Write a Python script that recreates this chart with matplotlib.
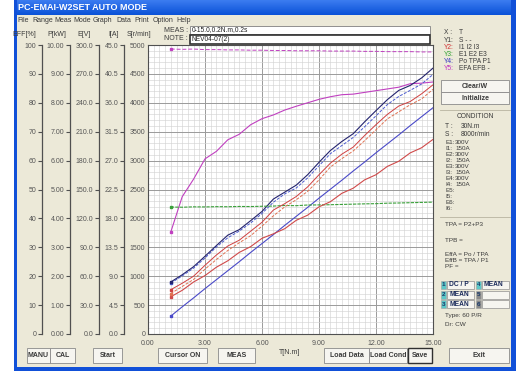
import numpy as np
import matplotlib
matplotlib.use("Agg")
import matplotlib.pyplot as plt
from matplotlib.patches import Rectangle

W, H = 516, 371

# measured data (T step 0.6 N.m)
torque = [1.2, 1.8, 2.4, 3.0, 3.6, 4.2, 4.8, 5.4, 6.0, 6.6, 7.2, 7.8,
          8.4, 9.0, 9.6, 10.2, 10.8, 11.4, 12.0, 12.6, 13.2, 13.8, 14.4, 15.0]
p1_kw = [1.80, 2.05, 2.33, 2.69, 3.06, 3.42, 3.61, 3.92, 4.24, 4.67, 4.91, 5.15,
         5.51, 5.94, 6.35, 6.66, 6.93, 7.34, 7.73, 8.11, 8.43, 8.60, 8.86, 9.20]
tpa_kw = [1.76, 2.01, 2.28, 2.63, 3.01, 3.33, 3.56, 3.84, 4.17, 4.56, 4.85, 5.05,
          5.40, 5.82, 6.24, 6.52, 6.80, 7.17, 7.55, 7.94, 8.22, 8.43, 8.65, 8.98]
po_kw = [0.62, 0.94, 1.25, 1.57, 1.88, 2.19, 2.50, 2.82, 3.13, 3.44, 3.76, 4.07,
         4.38, 4.70, 5.01, 5.32, 5.64, 5.95, 6.27, 6.58, 6.89, 7.21, 7.52, 7.83]
i1_a = [6.9, 7.9, 9.0, 10.7, 12.3, 13.7, 14.6, 16.0, 17.4, 19.3, 20.3, 21.4,
        22.9, 24.8, 26.6, 28.0, 29.1, 30.9, 32.6, 34.2, 35.5, 36.2, 37.4, 38.8]
i2_a = [6.3, 7.4, 8.5, 10.1, 11.6, 13.0, 14.2, 15.3, 16.8, 18.4, 19.8, 20.9,
        22.2, 24.0, 26.0, 27.3, 28.5, 30.1, 31.8, 33.5, 34.6, 35.7, 36.6, 38.1]
i3_a = [5.8, 6.8, 8.1, 9.1, 10.4, 11.4, 12.7, 13.6, 14.9, 15.6, 16.4, 17.7,
        18.5, 19.8, 20.6, 21.9, 22.7, 24.0, 24.8, 26.1, 26.9, 28.2, 29.0, 30.3]
e_v = [131.8, 131.6, 132.0, 131.9, 132.2, 132.1, 132.4, 132.3, 132.6, 132.8, 133.4, 133.2,
       133.9, 134.0, 134.2, 134.5, 134.8, 135.1, 135.3, 135.8, 136.0, 136.3, 136.6, 136.9]
efa_pct = [35.3, 47.5, 53.6, 60.6, 63.2, 67.2, 69.1, 72.4, 74.5, 75.8, 77.5, 78.8,
           80.0, 81.2, 82.1, 82.8, 83.0, 83.6, 84.2, 84.8, 85.4, 86.6, 86.8, 87.2]
efb_pct = [98.6, 98.5, 98.6, 98.4, 98.4, 98.3, 98.3, 98.2, 98.2, 98.1, 98.1, 98.0,
           98.0, 98.0, 97.9, 97.9, 97.9, 97.8, 97.8, 97.7, 97.7, 97.7, 97.6, 97.6]

x_ticks = [0, 3, 6, 9, 12, 15]
x_labels = ["0.00", "3.00", "6.00", "9.00", "12.00", "15.00"]

BG = "#ece9d8"
TXT = "#3a3a3a"
TICK = "#555555"
FS = 5

plt.rcParams["font.family"] = ["Liberation Sans", "DejaVu Sans"]

fig = plt.figure(figsize=(W / 100, H / 100), dpi=100)
fig.patch.set_facecolor(BG)

ui = fig.add_axes([0, 0, 1, 1], zorder=0)
ui.set_xlim(0, W)
ui.set_ylim(H, 0)
ui.axis("off")


def rect(x0, y0, x1, y1, fc, ec="none", lw=0.6, z=1):
    ui.add_patch(Rectangle((x0, y0), x1 - x0, y1 - y0, facecolor=fc, edgecolor=ec, lw=lw, zorder=z))


def button(x0, y0, x1, y1, label, default=False):
    rect(x0, y0, x1, y1, "#f6f5f0", "#303030" if default else "#8a8a8a", 1.0 if default else 0.6)
    ui.text((x0 + x1) / 2, (y0 + y1) / 2, label, ha="center", va="center",
            fontsize=FS, fontweight="bold", color=TXT, zorder=3)


# window frame
rect(0, 0, 14, H, "white")
grad = np.linspace(0, 1, 20).reshape(-1, 1)
ui.imshow(grad, extent=[14, W, 15, 0], aspect="auto", cmap=matplotlib.colors.LinearSegmentedColormap.from_list(
    "xp", ["#3b7cf0", "#0b52d8"]), zorder=1)
rect(14, 0, 17, H, "#1150d8")
rect(511, 0, W, H, "#1150d8")
rect(14, 367, W, H, "#1150d8")
ui.text(18, 8, "PC-EMAI-W2SET AUTO MODE", color="white", fontsize=6.5, fontweight="bold",
        va="center", zorder=3)

menu = [("File", 17), ("Range", 32), ("Meas", 54), ("Mode", 73), ("Graph", 93),
        ("Data", 116), ("Print", 134), ("Option", 153), ("Help", 176)]
for name, mx in menu:
    ui.text(mx, 20, name, fontsize=FS, color=TXT, va="center")

# MEAS / NOTE boxes
ui.text(188, 30, "MEAS :", fontsize=FS, color=TXT, ha="right", va="center")
ui.text(188, 38.5, "NOTE :", fontsize=FS, color=TXT, ha="right", va="center")
rect(190, 26, 430, 33.5, "white", "#808080", 0.6)
rect(190, 34.5, 430, 44, "white", "#303030", 1.2)
ui.text(192, 29.8, "0-15.0,0.2N.m,0.2s", fontsize=4.8, color="#202020", va="center")
ui.text(192, 39.3, "NEV04-07(2)", fontsize=4.8, color="#202020", va="center")

# scale headers
for lab, hx in [("EFF[%]", 24), ("P[kW]", 57), ("E[V]", 84), ("I[A]", 114), ("S[r/min]", 139)]:
    ui.text(hx, 35, lab, fontsize=FS, color=TXT, ha="center", va="center")

# main plot
ax = fig.add_axes([148 / W, 1 - 334 / H, 285 / W, 289 / H], zorder=2)
ax.set_facecolor("white")
ax.set_xlim(0, 15)
ax.set_ylim(0, 5000)
ax.set_xticks(x_ticks)
ax.set_xticklabels(x_labels)
ax.set_yticks(np.arange(0, 5001, 500))
ax.set_xticks(np.arange(0, 15.01, 0.3), minor=True)
ax.set_yticks(np.arange(0, 5001, 100), minor=True)
ax.grid(which="minor", color="#d4d4d4", lw=0.45)
ax.grid(which="major", color="#9a9a9a", lw=0.7)
ax.set_axisbelow(True)
ax.tick_params(which="both", length=0, labelsize=FS, labelcolor=TICK, pad=2)
ax.tick_params(axis="x", pad=4)
for sp in ax.spines.values():
    sp.set_color("#505050")
    sp.set_linewidth(0.8)


def overlay(top):
    o = fig.add_axes(ax.get_position(), zorder=3, sharex=ax)
    o.set_ylim(0, top)
    o.patch.set_visible(False)
    o.axis("off")
    return o


ax_eff = overlay(100)
ax_p = overlay(10)
ax_e = overlay(300)
ax_i = overlay(45)

ax_e.plot(torque, e_v, color="#3aa03a", lw=0.8, ls=(0, (3, 1)), marker="s", ms=1.8, markevery=[0])
ax_eff.plot(torque, efb_pct, color="#c040c0", lw=0.7, ls=(0, (4, 2)), marker="s", ms=1.8, markevery=[0])
ax_eff.plot(torque, efa_pct, color="#c040c0", lw=0.8, marker="s", ms=1.8, markevery=[0])
ax_i.plot(torque, i3_a, color="#d04a4a", lw=0.8, marker="s", ms=1.8, markevery=[0])
ax_i.plot(torque, i2_a, color="#e07050", lw=0.7, ls=(0, (3, 1.5)), marker="s", ms=1.8, markevery=[0])
ax_i.plot(torque, i1_a, color="#d04040", lw=0.7, marker="s", ms=1.8, markevery=[0])
ax_p.plot(torque, po_kw, color="#4a4ac8", lw=0.8, marker="s", ms=1.8, markevery=[0])
ax_p.plot(torque, tpa_kw, color="#4b5bd0", lw=0.7, ls=(0, (3, 1.5)), marker="s", ms=1.8, markevery=[0])
ax_p.plot(torque, p1_kw, color="#23236e", lw=0.8, marker="s", ms=1.8, markevery=[0])

ui.text(290, 352, "T[N.m]", fontsize=FS, color=TXT, ha="center", va="center")

# extra left scales
scales = [(42, 100, np.arange(0, 101, 10), "{:.0f}"),
          (70, 10, np.arange(0, 10.01, 1), "{:.2f}"),
          (99, 300, np.arange(0, 301, 30), "{:.1f}"),
          (124, 45, np.linspace(0, 45, 11), "{:.1f}")]
for sx, top, ticks, fmt in scales:
    s = fig.add_axes([sx / W, 1 - 334 / H, 0.0001, 289 / H], zorder=1)
    s.set_ylim(0, top)
    s.patch.set_visible(False)
    for k in ("right", "top", "bottom"):
        s.spines[k].set_visible(False)
    s.spines["left"].set_color("#505050")
    s.spines["left"].set_linewidth(0.9)
    s.set_xticks([])
    s.set_yticks(ticks)
    s.set_yticklabels([fmt.format(t) for t in ticks])
    s.tick_params(axis="y", direction="out", length=3, width=0.8, color="#505050",
                  labelsize=FS, labelcolor=TICK, pad=1)

# right panel: legend
legend_rows = [("X :", "T", TXT), ("Y1:", "S - -", TXT), ("Y2:", "I1 I2 I3", "#d03030"),
               ("Y3:", "E1 E2 E3", "#30a030"), ("Y4:", "Po TPA P1", "#3030c0"),
               ("Y5:", "EFA EFB -", "#c030c0")]
for k, (a, b, c) in enumerate(legend_rows):
    yy = 33 + k * 7.1
    ui.text(444, yy, a, fontsize=4.8, color=c, va="center")
    ui.text(459, yy, b, fontsize=4.8, color=TXT, va="center")

button(441, 80, 509, 92, "Clear/W")
button(441, 92, 509, 104, "Initialize")

ui.plot([440, 510], [110, 110], color="#b8b4a0", lw=0.6)
ui.text(475, 117, "CONDITION", fontsize=4.8, color=TXT, ha="center", va="center")
cond = [("T :", "30N.m", 126), ("S :", "8000r/min", 134)]
for a, b, yy in cond:
    ui.text(445, yy, a, fontsize=4.8, color=TXT, va="center")
    ui.text(461, yy, b, fontsize=4.8, color=TXT, va="center")
cond2 = [("E1:", "300V"), ("I1:", "150A"), ("E2:", "300V"), ("I2:", "150A"),
         ("E3:", "300V"), ("I3:", "150A"), ("E4:", "300V"), ("I4:", "150A"),
         ("E5:", ""), ("I5:", ""), ("E6:", ""), ("I6:", "")]
for k, (a, b) in enumerate(cond2):
    yy = 142 + k * 6.0
    ui.text(445, yy, a, fontsize=4.5, color=TXT, va="center")
    ui.text(455, yy, b, fontsize=4.5, color=TXT, va="center")
ui.plot([440, 510], [217, 217], color="#b8b4a0", lw=0.6)

ui.text(445, 225, "TPA = P2+P3", fontsize=4.6, color=TXT, va="center")
ui.text(445, 240, "TPB =", fontsize=4.6, color=TXT, va="center")
ui.text(445, 255, "EffA = Po / TPA", fontsize=4.6, color=TXT, va="center")
ui.text(445, 261, "EffB = TPA / P1", fontsize=4.6, color=TXT, va="center")
ui.text(445, 267, "PF =", fontsize=4.6, color=TXT, va="center")

slots = [("1", "DC / P", 441, 285), ("2", "MEAN", 441, 294.5), ("3", "MEAN", 441, 304),
         ("4", "MEAN", 476, 285), ("5", "", 476, 294.5), ("6", "", 476, 304)]
for num, lab, bx, by in slots:
    rect(bx, by - 4, bx + 5, by + 4, "#5cc8c8" if lab else "#8a8a8a", "#a0a0a0", 0.4)
    ui.text(bx + 2.5, by, num, fontsize=4.5, color="#1a3a6a", ha="center", va="center", fontweight="bold", zorder=3)
    rect(bx + 6, by - 4, bx + 33, by + 4, "#f6f5f0", "#909090", 0.5)
    ui.text(bx + 8, by, lab, fontsize=4.8, color="#1a2a5a", va="center", fontweight="bold", zorder=3)

ui.text(445, 316, "Type: 60 P/R", fontsize=4.6, color=TXT, va="center")
ui.text(445, 324, "Dr: CW", fontsize=4.6, color=TXT, va="center")

# bottom buttons
for x0, x1, lab in [(27, 50, "MANU"), (50, 75, "CAL"), (93, 122, "Start"),
                    (158, 207, "Cursor ON"), (218, 255, "MEAS"), (324, 369, "Load Data"),
                    (369, 407, "Load Cond"), (449, 509, "Exit")]:
    button(x0, 348, x1, 363, lab)
button(408, 348, 432, 363, "Save", default=True)

fig.savefig("out.png", dpi=100, facecolor=fig.get_facecolor())
